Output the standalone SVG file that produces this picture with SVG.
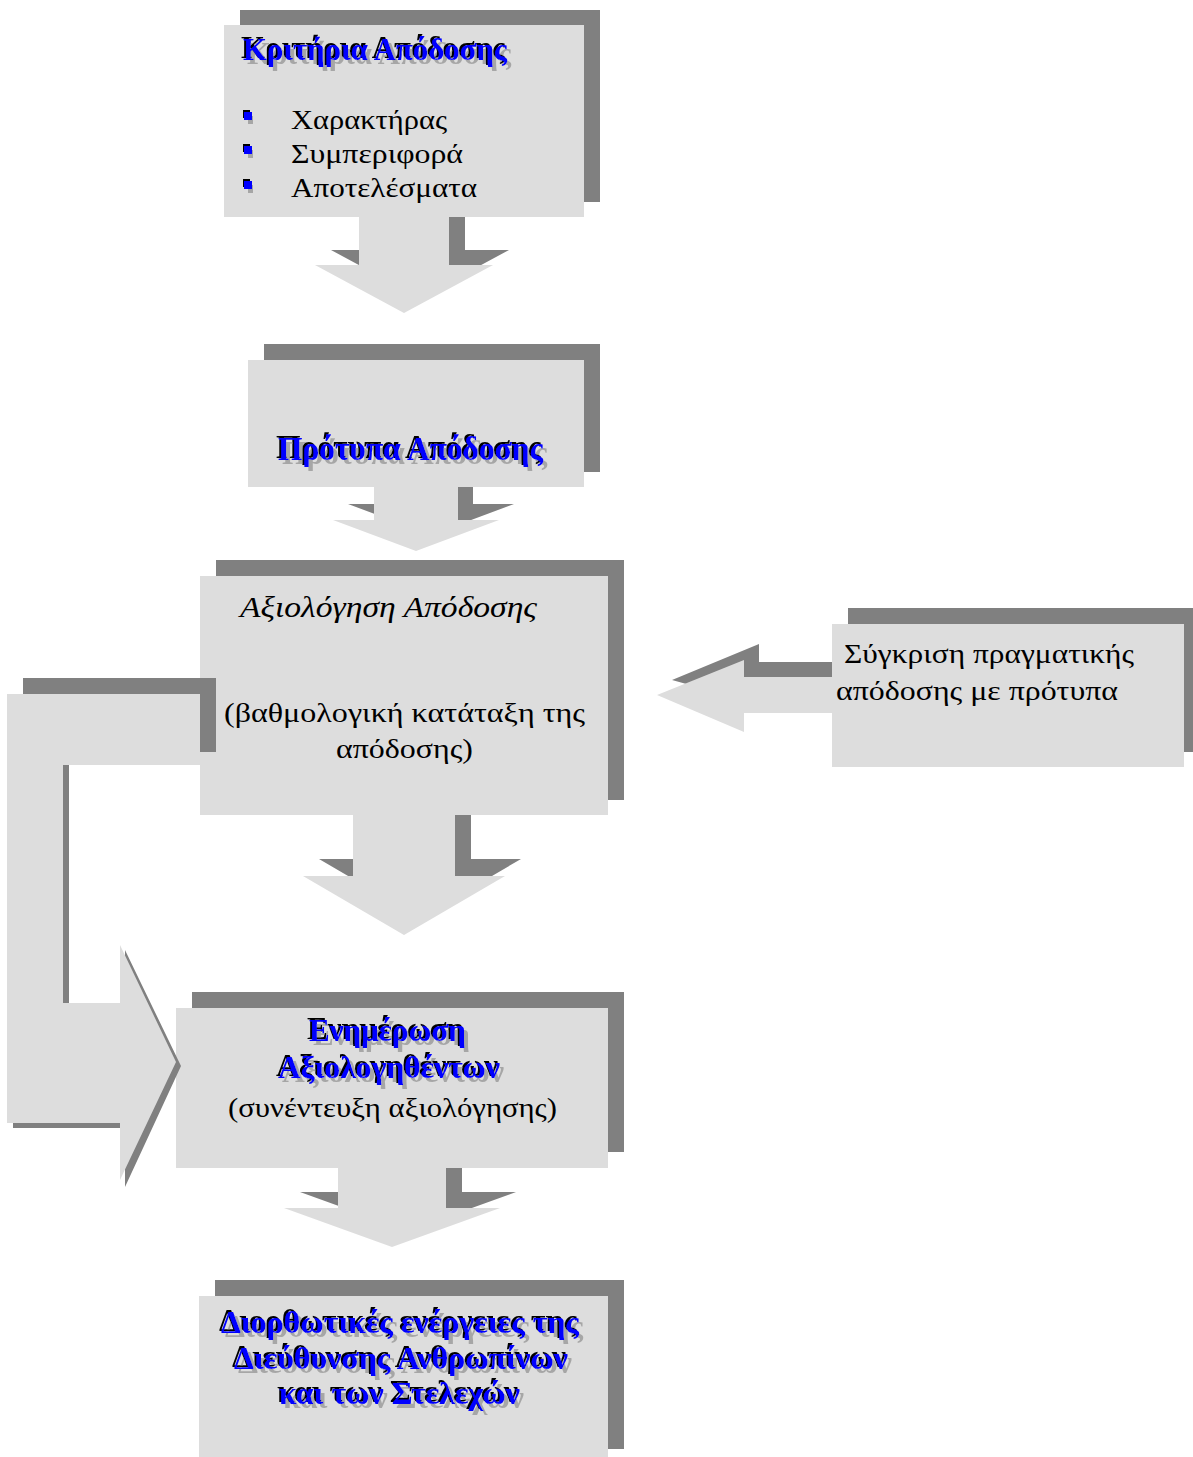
<svg xmlns="http://www.w3.org/2000/svg" width="1193" height="1457" viewBox="0 0 1193 1457">
<style>
.light{fill:#dddddd}
.dark{fill:#808080}
.t{font-family:"Liberation Serif","Times New Roman",serif;font-size:28px;fill:#000}
.ti{font-family:"Liberation Serif","Times New Roman",serif;font-size:29px;font-style:italic;fill:#000}
.wa{font-family:"Liberation Serif","Times New Roman",serif;font-size:31px;font-weight:bold;fill:#0000ff;filter:url(#wart)}
.big{font-size:33px}
.bul{fill:#0000ff;filter:url(#wart)}
</style>
<defs>
<filter id="wart" x="-10%" y="-30%" width="120%" height="170%">
<feOffset in="SourceAlpha" dx="4" dy="4" result="o1"/>
<feFlood flood-color="#a6a6a6" result="f1"/>
<feComposite in="f1" in2="o1" operator="in" result="gray"/>
<feOffset in="SourceAlpha" dx="-2" dy="-2" result="o2"/>
<feFlood flood-color="#000000" result="f2"/>
<feComposite in="f2" in2="o2" operator="in" result="black"/>
<feMerge><feMergeNode in="gray"/><feMergeNode in="black"/><feMergeNode in="SourceGraphic"/></feMerge>
</filter>
</defs>
<rect width="1193" height="1457" fill="#ffffff"/>

<g id="node-kritiria">
<rect class="dark" x="240" y="10" width="360" height="192"/>
<rect class="light" x="224" y="25" width="360" height="192"/>
<text class="wa" x="243" y="60" textLength="264" lengthAdjust="spacingAndGlyphs">Κριτήρια Απόδοσης</text>
<rect class="bul" x="244" y="112" width="8" height="8"/>
<rect class="bul" x="244" y="146" width="8" height="8"/>
<rect class="bul" x="244" y="181" width="8" height="8"/>
<text class="t" x="291" y="129" textLength="156" lengthAdjust="spacingAndGlyphs">Χαρακτήρας</text>
<text class="t" x="291" y="163" textLength="172" lengthAdjust="spacingAndGlyphs">Συμπεριφορά</text>
<text class="t" x="291" y="197" textLength="186" lengthAdjust="spacingAndGlyphs">Αποτελέσματα</text>
</g>

<g id="node-protypa">
<rect class="dark" x="264" y="344" width="336" height="128"/>
<rect class="light" x="248" y="360" width="336" height="127"/>
<text class="wa big" x="278" y="460" textLength="265" lengthAdjust="spacingAndGlyphs">Πρότυπα Απόδοσης</text>
</g>

<g id="node-axiologisi">
<rect class="dark" x="216" y="560" width="408" height="240"/>
<rect class="light" x="200" y="576" width="408" height="239"/>
<text class="ti" x="240" y="617" textLength="297" lengthAdjust="spacingAndGlyphs">Αξιολόγηση Απόδοσης</text>
<text class="t" x="224" y="722" textLength="361" lengthAdjust="spacingAndGlyphs">(βαθμολογική κατάταξη της</text>
<text class="t" x="336" y="758" textLength="137" lengthAdjust="spacingAndGlyphs">απόδοσης)</text>
</g>

<g id="node-sygkrisi">
<rect class="dark" x="848" y="608" width="345" height="144"/>
<rect class="light" x="832" y="624" width="352" height="143"/>
<text class="t" x="844" y="663" textLength="290" lengthAdjust="spacingAndGlyphs">Σύγκριση πραγματικής</text>
<text class="t" x="836" y="700" textLength="282" lengthAdjust="spacingAndGlyphs">απόδοσης με πρότυπα</text>
</g>

<g id="node-enimerosi">
<rect class="dark" x="192" y="992" width="432" height="160"/>
<rect class="light" x="176" y="1008" width="432" height="160"/>
<text class="wa" x="309" y="1041" textLength="157" lengthAdjust="spacingAndGlyphs">Ενημέρωση</text>
<text class="wa" x="278" y="1078" textLength="222" lengthAdjust="spacingAndGlyphs">Αξιολογηθέντων</text>
<text class="t" x="228" y="1117" textLength="329" lengthAdjust="spacingAndGlyphs">(συνέντευξη αξιολόγησης)</text>
</g>

<g id="node-diorthotikes">
<rect class="dark" x="215" y="1280" width="409" height="169"/>
<rect class="light" x="199" y="1296" width="409" height="161"/>
<text class="wa" x="221" y="1333" textLength="358" lengthAdjust="spacingAndGlyphs">Διορθωτικές ενέργειες της</text>
<text class="wa" x="234" y="1369" textLength="334" lengthAdjust="spacingAndGlyphs">Διεύθυνσης Ανθρωπίνων</text>
<text class="wa" x="279" y="1404" textLength="241" lengthAdjust="spacingAndGlyphs">και των Στελεχών</text>
</g>

<g id="connectors">
<polygon class="dark" points="375,217 465,217 465,250 509,250 420,298 331,250 375,250"/>
<polygon class="light" points="359,217 449,217 449,265 493,265 404,313 315,265 359,265"/>
<polygon class="dark" points="389,487 473,487 473,504 514,504 431,535 348,504 389,504"/>
<polygon class="light" points="374,487 458,487 458,520 499,520 416,551 333,520 374,520"/>
<polygon class="dark" points="369,815 471,815 471,859 521,859 420,918 319,859 369,859"/>
<polygon class="light" points="353,815 455,815 455,876 505,876 404,935 303,876 353,876"/>
<polygon class="dark" points="354,1168 462,1168 462,1192 516,1192 408,1231 300,1192 354,1192"/>
<polygon class="light" points="338,1168 446,1168 446,1208 500,1208 392,1247 284,1208 338,1208"/>
<polygon class="dark" points="672,680 759,644 759,662 832,662 832,677 744,677 744,700"/>
<polygon class="light" points="657,695 744,660 744,677 832,677 832,713 744,713 744,732"/>
<rect class="dark" x="23" y="678" width="193" height="74"/>
<polygon class="dark" points="13,699 69,699 69,1008 125,1008 125,950 181,1066 125,1187 125,1128 13,1128"/>
<polygon class="light" points="7,694 200,694 200,765 63,765 63,1003 120,1003 120,945 176,1062 120,1180 120,1123 7,1123"/>
</g>
</svg>
